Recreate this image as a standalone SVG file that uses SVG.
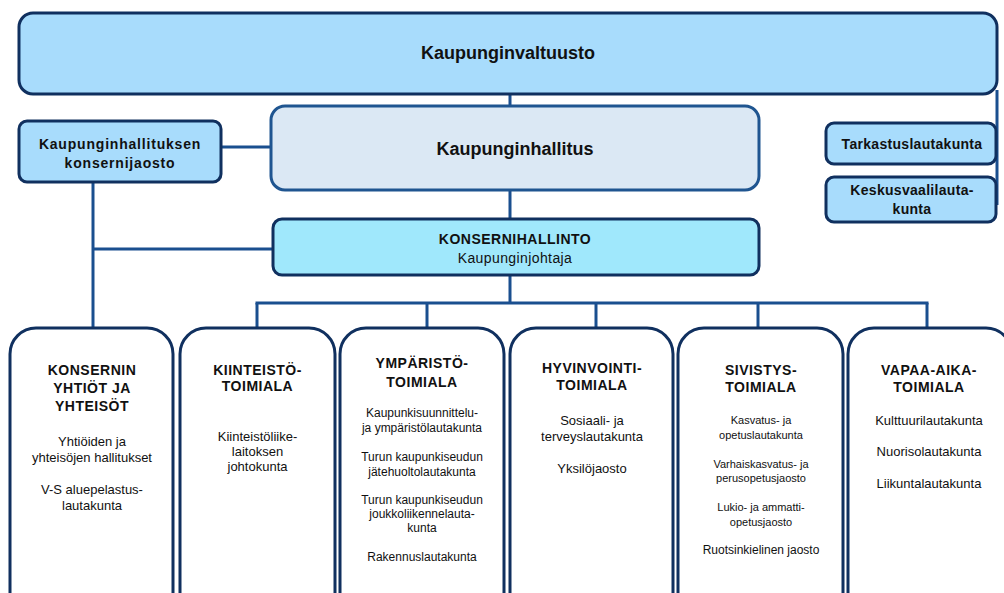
<svg xmlns="http://www.w3.org/2000/svg" width="1004" height="593" viewBox="0 0 1004 593">
<style>
.conn{stroke:#1a4f8f;stroke-width:3;fill:none}
.blue{fill:#a8dcfc;stroke:#10305f;stroke-width:3}
.grey{fill:#dbe8f4;stroke:#1f5590;stroke-width:3}
.cyan{fill:#a0e8fc;stroke:#10305f;stroke-width:3}
.col{fill:#ffffff;stroke:#10305f;stroke-width:3}
text{font-family:"Liberation Sans",Arial,sans-serif;fill:#111;text-anchor:middle}
.h{font-weight:bold;font-size:14px;letter-spacing:0.5px}
.b13{font-size:13px}
.b12{font-size:12px}
.b11{font-size:11px}
</style>
<rect width="1004" height="593" fill="#ffffff"/>
<g id="connectors">
<line class="conn" x1="997" y1="90" x2="997" y2="205"/>
<line class="conn" x1="510" y1="94" x2="510" y2="107"/>
<line class="conn" x1="510" y1="189" x2="510" y2="219"/>
<line class="conn" x1="221" y1="147" x2="272" y2="147"/>
<line class="conn" x1="93" y1="181" x2="93" y2="329"/>
<line class="conn" x1="93" y1="249" x2="274" y2="249"/>
<line class="conn" x1="510" y1="274" x2="510" y2="304"/>
<line class="conn" x1="255.5" y1="303" x2="928.5" y2="303"/>
<line class="conn" x1="257" y1="303" x2="257" y2="329"/>
<line class="conn" x1="427" y1="303" x2="427" y2="329"/>
<line class="conn" x1="596" y1="303" x2="596" y2="329"/>
<line class="conn" x1="758" y1="303" x2="758" y2="329"/>
<line class="conn" x1="927" y1="303" x2="927" y2="329"/>
</g>
<g id="kaupunginvaltuusto">
<rect class="blue" x="19" y="13" width="978" height="81" rx="14"/>
<text x="508" y="59" style="font-size:18px;font-weight:bold">Kaupunginvaltuusto</text>
</g>
<g id="kaupunginhallitus">
<rect class="grey" x="271" y="106" width="488" height="84" rx="14"/>
<text x="515" y="155" style="font-size:18px;font-weight:bold">Kaupunginhallitus</text>
</g>
<g id="konsernijaosto">
<rect class="blue" x="19" y="121" width="202" height="61" rx="8"/>
<text x="120" y="149" style="font-size:14px;font-weight:bold;letter-spacing:0.8px">Kaupunginhallituksen</text>
<text x="120" y="168" style="font-size:14px;font-weight:bold;letter-spacing:0.8px">konsernijaosto</text>
</g>
<g id="tarkastuslautakunta">
<rect class="blue" x="826" y="123" width="170" height="41" rx="8"/>
<text x="912" y="149" style="font-size:14px;font-weight:bold;letter-spacing:0.3px">Tarkastuslautakunta</text>
</g>
<g id="keskusvaalilautakunta">
<rect class="blue" x="826" y="177" width="170" height="45" rx="8"/>
<text x="912" y="195" style="font-size:14px;font-weight:bold;letter-spacing:0.3px">Keskusvaalilauta-</text>
<text x="912" y="214" style="font-size:14px;font-weight:bold;letter-spacing:0.3px">kunta</text>
</g>
<g id="konsernihallinto">
<rect class="cyan" x="273" y="219" width="486" height="56" rx="9"/>
<text x="515" y="244" style="font-size:14px;font-weight:bold;letter-spacing:0.5px">KONSERNIHALLINTO</text>
<text x="515" y="263" style="font-size:14px;letter-spacing:0.4px">Kaupunginjohtaja</text>
</g>
<g id="konsernin-yhtiot">
<rect class="col" x="10" y="328" width="163" height="300" rx="26"/>
<text class="h" x="92" y="375">KONSERNIN</text>
<text class="h" x="92" y="393">YHTIÖT JA</text>
<text class="h" x="92" y="411">YHTEISÖT</text>
<text class="b13" x="92" y="446">Yhtiöiden ja</text>
<text class="b13" x="92" y="462">yhteisöjen hallitukset</text>
<text class="b13" x="92" y="494">V-S aluepelastus-</text>
<text class="b13" x="92" y="510">lautakunta</text>
</g>
<g id="kiinteistotoimiala">
<rect class="col" x="180" y="328" width="155" height="300" rx="26"/>
<text class="h" x="257.5" y="375">KIINTEISTÖ-</text>
<text class="h" x="257.5" y="391">TOIMIALA</text>
<text class="b13" x="257.5" y="441">Kiinteistöliike-</text>
<text class="b13" x="257.5" y="456">laitoksen</text>
<text class="b13" x="257.5" y="471">johtokunta</text>
</g>
<g id="ymparistotoimiala">
<rect class="col" x="340" y="328" width="164" height="300" rx="26"/>
<text class="h" x="422" y="368">YMPÄRISTÖ-</text>
<text class="h" x="422" y="387">TOIMIALA</text>
<text class="b12" x="422" y="417">Kaupunkisuunnittelu-</text>
<text class="b12" x="422" y="432">ja ympäristölautakunta</text>
<text class="b12" x="422" y="461">Turun kaupunkiseudun</text>
<text class="b12" x="422" y="476">jätehuoltolautakunta</text>
<text class="b12" x="422" y="504">Turun kaupunkiseudun</text>
<text class="b12" x="422" y="518">joukkoliikennelauta-</text>
<text class="b12" x="422" y="532">kunta</text>
<text class="b12" x="422" y="561">Rakennuslautakunta</text>
</g>
<g id="hyvinvointitoimiala">
<rect class="col" x="510" y="328" width="163" height="300" rx="26"/>
<text class="h" x="592" y="373">HYVINVOINTI-</text>
<text class="h" x="592" y="390">TOIMIALA</text>
<text class="b13" x="592" y="425">Sosiaali- ja</text>
<text class="b13" x="592" y="441">terveyslautakunta</text>
<text class="b13" x="592" y="473">Yksilöjaosto</text>
</g>
<g id="sivistystoimiala">
<rect class="col" x="678" y="328" width="165" height="300" rx="26"/>
<text class="h" x="761" y="375">SIVISTYS-</text>
<text class="h" x="761" y="392">TOIMIALA</text>
<text class="b11" x="761" y="424">Kasvatus- ja</text>
<text class="b11" x="761" y="439">opetuslautakunta</text>
<text class="b11" x="761" y="468">Varhaiskasvatus- ja</text>
<text class="b11" x="761" y="482">perusopetusjaosto</text>
<text class="b11" x="761" y="511">Lukio- ja ammatti-</text>
<text class="b11" x="761" y="526">opetusjaosto</text>
<text class="b12" x="761" y="554">Ruotsinkielinen jaosto</text>
</g>
<g id="vapaa-aikatoimiala">
<rect class="col" x="848" y="328" width="164" height="300" rx="26"/>
<text class="h" x="929" y="375">VAPAA-AIKA-</text>
<text class="h" x="929" y="392">TOIMIALA</text>
<text class="b13" x="929" y="425">Kulttuurilautakunta</text>
<text class="b13" x="929" y="456">Nuorisolautakunta</text>
<text class="b13" x="929" y="488">Liikuntalautakunta</text>
</g>
</svg>
